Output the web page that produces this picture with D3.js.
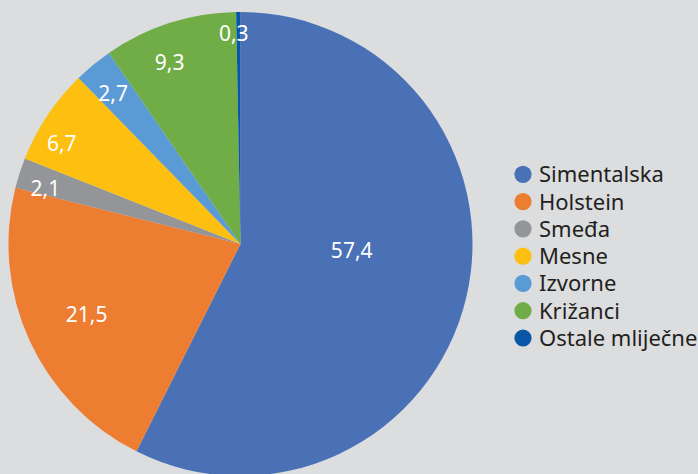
<!DOCTYPE html>
<html>
<head>
<meta charset="utf-8">
<script src="https://cdn.jsdelivr.net/npm/d3@7"></script>
<style>
  html, body { margin: 0; padding: 0; background: #dcdddf; }
  svg { display: block; }
</style>
</head>
<body>
<div id="chart"></div>
<script>
// data
const breeds = ["Simentalska", "Holstein", "Smeđa", "Mesne", "Izvorne", "Križanci", "Ostale mliječne"];
const shares = [57.4, 21.5, 2.1, 6.7, 2.7, 9.3, 0.3];
const colours = ["#4a71b6", "#ec7d31", "#939598", "#fdc010", "#5b9bd5", "#70ad47", "#0a56a6"];

// label placement (fraction of radius, angle nudge in degrees)
const labelRadius = [0.48, 0.73, 0.875, 0.885, 0.85, 0.84, 0.91];
const labelNudge = [-10.2, 0, -1.8, -4.2, -0.8, -3.5, -1.3];

const width = 698, height = 474;
const cx = 240.5, cy = 244, R = 232;

const svg = d3.select("#chart")
  .append("svg")
  .attr("width", width)
  .attr("height", height);

svg.append("rect")
  .attr("width", width)
  .attr("height", height)
  .attr("fill", "#dcdddf");

const rows = breeds.map((b, i) => ({ name: b, value: shares[i], colour: colours[i], i: i }));

const pie = d3.pie()
  .sort(null)
  .value(d => d.value)
  .startAngle(0)
  .endAngle(2 * Math.PI);

const arc = d3.arc().innerRadius(0).outerRadius(R);

const g = svg.append("g")
  .attr("transform", "translate(" + cx + "," + cy + ")");

const arcs = pie(rows);

g.selectAll("path.slice")
  .data(arcs)
  .enter()
  .append("path")
  .attr("class", "slice")
  .attr("d", arc)
  .attr("fill", d => d.data.colour);

// value labels
const fmt = v => String(v).replace(".", ",");
g.selectAll("text.val")
  .data(arcs)
  .enter()
  .append("text")
  .attr("class", "val")
  .attr("transform", d => {
    const a = (d.startAngle + d.endAngle) / 2 + labelNudge[d.data.i] * Math.PI / 180;
    const r = R * labelRadius[d.data.i];
    return "translate(" + (r * Math.sin(a)) + "," + (-r * Math.cos(a)) + ")";
  })
  .attr("text-anchor", "middle")
  .attr("dy", "0.36em")
  .attr("fill", "#ffffff")
  .style("font-family", "'Noto Sans', sans-serif")
  .style("font-size", "21px")
  .text(d => fmt(d.data.value));

// legend
const ly = d3.scalePoint()
  .domain(breeds)
  .range([174.3, 338]);

const legend = svg.append("g");
const item = legend.selectAll("g")
  .data(rows)
  .enter()
  .append("g")
  .attr("transform", d => "translate(0," + ly(d.name) + ")");

item.append("circle")
  .attr("cx", 523)
  .attr("cy", 0)
  .attr("r", 8.6)
  .attr("fill", d => d.colour);

item.append("text")
  .attr("x", 539)
  .attr("dy", "0.36em")
  .attr("fill", "#231f20")
  .style("font-family", "'Noto Sans', sans-serif")
  .style("font-size", "22px")
  .text(d => d.name);
</script>
</body>
</html>
